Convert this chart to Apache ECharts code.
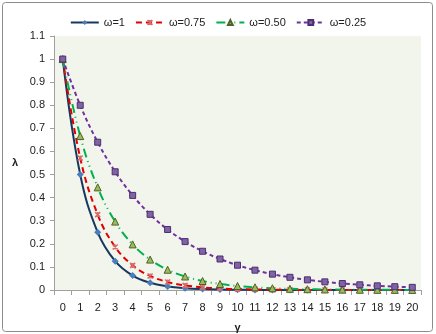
<!DOCTYPE html>
<html>
<head>
<meta charset="utf-8">
<script src="https://cdn.jsdelivr.net/npm/echarts@6/dist/echarts.min.js"></script>
<style>
  html, body { margin: 0; padding: 0; background: #fff; }
  #chart { width: 436px; height: 334px; }
</style>
</head>
<body>
<div id="chart"></div>
<script>
// gamma values on the x axis
const gammas = ['0','1','2','3','4','5','6','7','8','9','10','11','12','13','14','15','16','17','18','19','20'];

// lambda values
const omega100 = [1, 0.5, 0.25, 0.125, 0.0625, 0.0313, 0.0156, 0.0078, 0.0039, 0.002, 0.001, 0.0005, 0.0002, 0.0001, 0.0001, 0, 0, 0, 0, 0, 0];
const omega075 = [1, 0.5714, 0.3265, 0.1866, 0.1066, 0.0609, 0.0348, 0.0199, 0.0114, 0.0065, 0.0037, 0.0021, 0.0012, 0.0007, 0.0004, 0.0002, 0.0001, 0.0001, 0, 0, 0];
const omega050 = [1, 0.6667, 0.4444, 0.2963, 0.1975, 0.1317, 0.0878, 0.0585, 0.039, 0.026, 0.0173, 0.0116, 0.0077, 0.0051, 0.0034, 0.0023, 0.0015, 0.001, 0.0007, 0.0005, 0.0003];
const omega025 = [1, 0.8, 0.64, 0.512, 0.4096, 0.3277, 0.2621, 0.2097, 0.1678, 0.1342, 0.1074, 0.0859, 0.0687, 0.055, 0.044, 0.0352, 0.0281, 0.0225, 0.018, 0.0144, 0.0115];

const yTicks = ['0','0.1','0.2','0.3','0.4','0.5','0.6','0.7','0.8','0.9','1','1.1'];

const font = '"Liberation Sans", Arial, sans-serif';

const chart = echarts.init(document.getElementById('chart'));
chart.setOption({
  animation: false,
  textStyle: { fontFamily: font },
  graphic: [{
    type: 'rect',
    shape: { x: 2.5, y: 2.5, width: 430, height: 329, r: 3 },
    style: { fill: 'none', stroke: '#8c8c8c', lineWidth: 1 },
    silent: true
  }],
  legend: {
    top: 12,
    left: 'center',
    itemWidth: 28,
    itemHeight: 6,
    itemGap: 10,
    textStyle: { fontSize: 11, color: '#222', fontFamily: font },
    data: ['ω=1', 'ω=0.75', 'ω=0.50', 'ω=0.25']
  },
  grid: {
    left: 54, right: 15, top: 36, bottom: 44,
    outerBoundsMode: 'none',
    show: true, backgroundColor: '#f2f5ec', borderWidth: 0
  },
  xAxis: {
    type: 'category',
    data: gammas,
    boundaryGap: true,
    name: 'γ',
    nameLocation: 'middle',
    nameGap: 32,
    nameTextStyle: { fontSize: 11, fontWeight: 'bold', color: '#222' },
    axisLine: { lineStyle: { color: '#a0a0a0' } },
    axisTick: { show: true, alignWithLabel: false, length: 5, lineStyle: { color: '#a0a0a0' } },
    axisLabel: { fontSize: 11, color: '#222', margin: 12 },
    splitLine: { show: false }
  },
  yAxis: {
    type: 'value',
    min: 0, max: 1.1, interval: 0.1,
    name: 'λ',
    nameLocation: 'middle',
    nameRotate: 0,
    nameGap: 36,
    nameTextStyle: { fontSize: 11, fontWeight: 'bold', color: '#222' },
    axisLine: { show: true, lineStyle: { color: '#a0a0a0' } },
    axisTick: { show: true, length: 4, lineStyle: { color: '#a0a0a0' } },
    axisLabel: {
      fontSize: 11, color: '#222', margin: 9,
      formatter: v => yTicks[Math.round(v * 10)]
    },
    splitLine: { show: false }
  },
  series: [
    {
      name: 'ω=1', type: 'line', data: omega100, smooth: 0.4,
      symbol: 'diamond', symbolSize: 7,
      itemStyle: { color: '#4a7ebb' },
      lineStyle: { color: '#17375e', width: 2, type: 'solid' }
    },
    {
      name: 'ω=0.75', type: 'line', data: omega075, smooth: 0.4,
      symbol: 'path://M0,0 L10,10 M10,0 L0,10 M5,0 L5,10', symbolSize: 5,
      itemStyle: { color: '#d96a6a', borderColor: '#d96a6a', borderWidth: 1.5 },
      lineStyle: { color: '#e00000', width: 2, type: [6, 4] }
    },
    {
      name: 'ω=0.50', type: 'line', data: omega050, smooth: 0.4,
      symbol: 'triangle', symbolSize: 7,
      itemStyle: { color: '#9bbb59', borderColor: '#4f6228', borderWidth: 1 },
      lineStyle: { color: '#00b050', width: 2, type: [9, 4, 1, 4, 1, 4] }
    },
    {
      name: 'ω=0.25', type: 'line', data: omega025, smooth: 0.4,
      symbol: 'rect', symbolSize: 6,
      itemStyle: { color: '#8064a2', borderColor: '#4b2e73', borderWidth: 1 },
      lineStyle: { color: '#7030a0', width: 2, type: [4, 3] }
    }
  ]
});
</script>
</body>
</html>
